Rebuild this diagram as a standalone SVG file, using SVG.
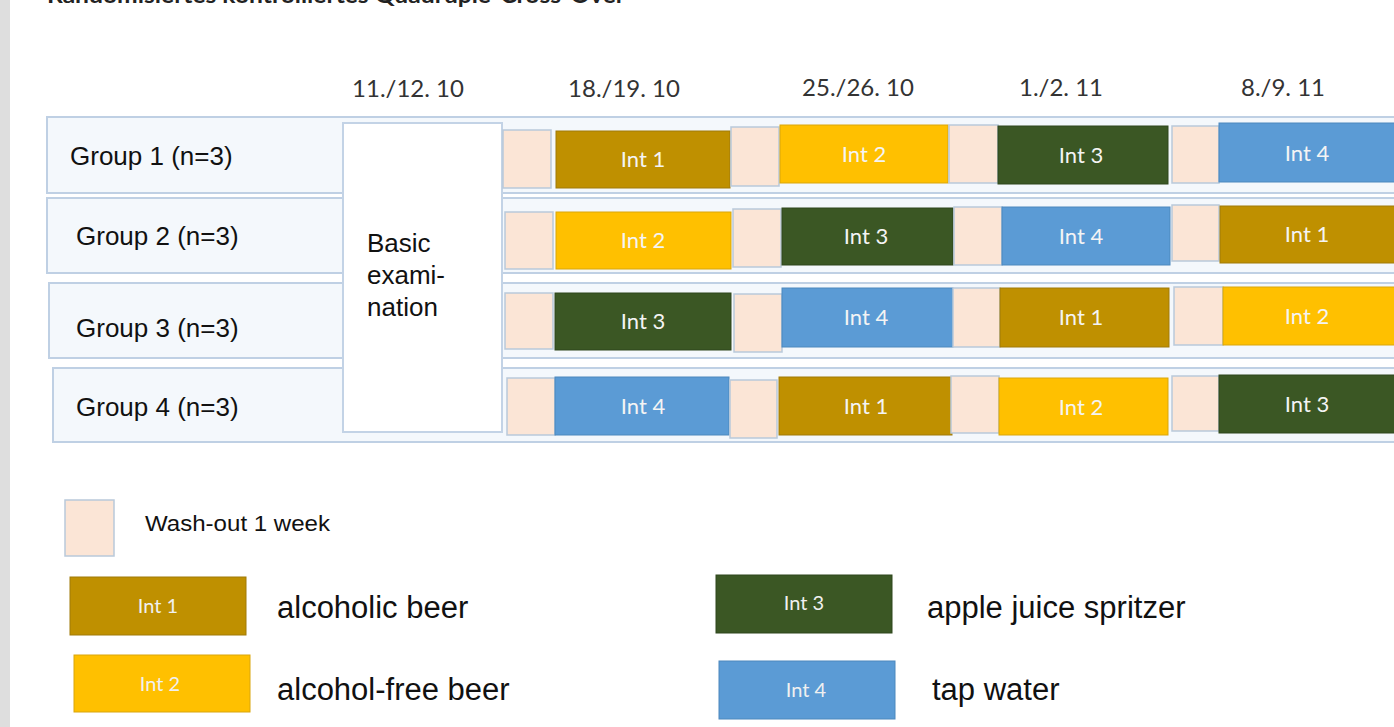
<svg xmlns="http://www.w3.org/2000/svg" width="1394" height="727" viewBox="0 0 1394 727">
<style>
.row{fill:#f4f8fc;stroke:#bfd0e4;stroke-width:2}
.wo{fill:#fbe5d6;stroke:#b9c9da;stroke-width:1.5}
.i1{fill:#bf9000;stroke:#a07a08;stroke-width:1}
.i2{fill:#ffc000;stroke:#d9a60c;stroke-width:1}
.i3{fill:#3b5724;stroke:#2f471c;stroke-width:1}
.i4{fill:#5b9bd5;stroke:#4d88bd;stroke-width:1}
.it{font-family:Lato,"Open Sans",sans-serif;font-size:22px;fill:#f4f4f4;text-anchor:middle}
.lt{font-family:Lato,"Open Sans",sans-serif;font-size:20px;fill:#f0f0f0;text-anchor:middle}
.dt{font-family:Lato,"Open Sans",sans-serif;font-size:24px;fill:#333;text-anchor:middle}
.gl{font-family:"Liberation Sans",Arial,sans-serif;font-size:26px;fill:#111}
.lg{font-family:"Liberation Sans",Arial,sans-serif;font-size:31px;fill:#111}
</style>
<rect x="0" y="0" width="1394" height="727" fill="#ffffff"/>
<rect x="0" y="0" width="10" height="727" fill="#dedede"/>
<text x="47" y="3" font-family="Lato,sans-serif" font-weight="bold" font-size="22" fill="#222" textLength="578" lengthAdjust="spacingAndGlyphs">Randomisiertes kontrolliertes Quadruple-Cross-Over</text>

<g id="dates">
<text class="dt" x="408" y="97">11./12. 10</text>
<text class="dt" x="624" y="97">18./19. 10</text>
<text class="dt" x="858" y="96">25./26. 10</text>
<text class="dt" x="1061" y="96">1./2. 11</text>
<text class="dt" x="1283" y="96">8./9. 11</text>
</g>

<g id="group1"><rect class="row" x="47" y="117" width="1360" height="76"/><text class="gl" x="70" y="165">Group 1 (n=3)</text></g>
<g id="group2"><rect class="row" x="47" y="198" width="1360" height="75"/><text class="gl" x="76" y="245">Group 2 (n=3)</text></g>
<g id="group3"><rect class="row" x="49" y="283" width="1360" height="75"/><text class="gl" x="76" y="337">Group 3 (n=3)</text></g>
<g id="group4"><rect class="row" x="53" y="368" width="1360" height="74"/><text class="gl" x="76" y="416">Group 4 (n=3)</text></g>

<g id="basic"><rect x="343" y="123" width="159" height="309" fill="#ffffff" stroke="#c3d3e6" stroke-width="2"/>
<text class="gl" x="367" y="252">Basic</text><text class="gl" x="367" y="284">exami-</text><text class="gl" x="367" y="316">nation</text></g>

<g id="row1">
<g id="r1w1"><rect class="wo" x="503" y="130" width="48" height="58"/></g>
<g id="r1i1"><rect class="i1" x="556" y="131" width="174" height="57"/><text class="it" x="643" y="167">Int 1</text></g>
<g id="r1w2"><rect class="wo" x="731" y="127" width="48" height="59"/></g>
<g id="r1i2"><rect class="i2" x="780" y="125" width="168" height="58"/><text class="it" x="864" y="162">Int 2</text></g>
<g id="r1w3"><rect class="wo" x="949" y="125" width="49" height="58"/></g>
<g id="r1i3"><rect class="i3" x="998" y="126" width="170" height="58"/><text class="it" x="1081" y="163">Int 3</text></g>
<g id="r1w4"><rect class="wo" x="1172" y="126" width="47" height="57"/></g>
<g id="r1i4"><rect class="i4" x="1219" y="123" width="180" height="59"/><text class="it" x="1307" y="161">Int 4</text></g>
</g>

<g id="row2">
<g id="r2w1"><rect class="wo" x="505" y="212" width="48" height="57"/></g>
<g id="r2i2"><rect class="i2" x="556" y="212" width="175" height="57"/><text class="it" x="643" y="248">Int 2</text></g>
<g id="r2w2"><rect class="wo" x="733" y="209" width="48" height="58"/></g>
<g id="r2i3"><rect class="i3" x="782" y="208" width="171" height="57"/><text class="it" x="866" y="244">Int 3</text></g>
<g id="r2w3"><rect class="wo" x="954" y="207" width="48" height="58"/></g>
<g id="r2i4"><rect class="i4" x="1002" y="207" width="168" height="58"/><text class="it" x="1081" y="244">Int 4</text></g>
<g id="r2w4"><rect class="wo" x="1172" y="205" width="47" height="56"/></g>
<g id="r2i1"><rect class="i1" x="1220" y="206" width="180" height="57"/><text class="it" x="1307" y="242">Int 1</text></g>
</g>

<g id="row3">
<g id="r3w1"><rect class="wo" x="505" y="293" width="48" height="56"/></g>
<g id="r3i3"><rect class="i3" x="555" y="293" width="176" height="57"/><text class="it" x="643" y="329">Int 3</text></g>
<g id="r3w2"><rect class="wo" x="734" y="294" width="48" height="58"/></g>
<g id="r3i4"><rect class="i4" x="782" y="288" width="171" height="59"/><text class="it" x="866" y="325">Int 4</text></g>
<g id="r3w3"><rect class="wo" x="953" y="288" width="47" height="59"/></g>
<g id="r3i1"><rect class="i1" x="1000" y="288" width="169" height="59"/><text class="it" x="1081" y="325">Int 1</text></g>
<g id="r3w4"><rect class="wo" x="1174" y="287" width="49" height="58"/></g>
<g id="r3i2"><rect class="i2" x="1223" y="287" width="177" height="58"/><text class="it" x="1307" y="324">Int 2</text></g>
</g>

<g id="row4">
<g id="r4w1"><rect class="wo" x="507" y="378" width="48" height="57"/></g>
<g id="r4i4"><rect class="i4" x="555" y="377" width="174" height="58"/><text class="it" x="643" y="414">Int 4</text></g>
<g id="r4w2"><rect class="wo" x="730" y="380" width="47" height="58"/></g>
<g id="r4i1"><rect class="i1" x="779" y="377" width="173" height="58"/><text class="it" x="866" y="414">Int 1</text></g>
<g id="r4w3"><rect class="wo" x="951" y="376" width="48" height="57"/></g>
<g id="r4i2"><rect class="i2" x="999" y="378" width="169" height="57"/><text class="it" x="1081" y="415">Int 2</text></g>
<g id="r4w4"><rect class="wo" x="1172" y="376" width="47" height="55"/></g>
<g id="r4i3"><rect class="i3" x="1219" y="375" width="181" height="58"/><text class="it" x="1307" y="412">Int 3</text></g>
</g>

<g id="connectors"/>

<g id="legend-washout"><rect class="wo" x="65" y="500" width="49" height="56"/><text x="145" y="531" font-family="'Liberation Sans',Arial,sans-serif" font-size="22" fill="#111" textLength="185" lengthAdjust="spacingAndGlyphs">Wash-out 1 week</text></g>
<g id="legend-int1"><rect class="i1" x="70" y="577" width="176" height="58"/><text class="lt" x="158" y="613">Int 1</text><text class="lg" x="277" y="618">alcoholic beer</text></g>
<g id="legend-int2"><rect class="i2" x="74" y="655" width="176" height="57"/><text class="lt" x="160" y="691">Int 2</text><text class="lg" x="277" y="700">alcohol-free beer</text></g>
<g id="legend-int3"><rect class="i3" x="716" y="575" width="176" height="58"/><text class="lt" x="804" y="610">Int 3</text><text class="lg" x="927" y="618">apple juice spritzer</text></g>
<g id="legend-int4"><rect class="i4" x="719" y="661" width="176" height="58"/><text class="lt" x="806" y="697">Int 4</text><text class="lg" x="932" y="700">tap water</text></g>
</svg>
